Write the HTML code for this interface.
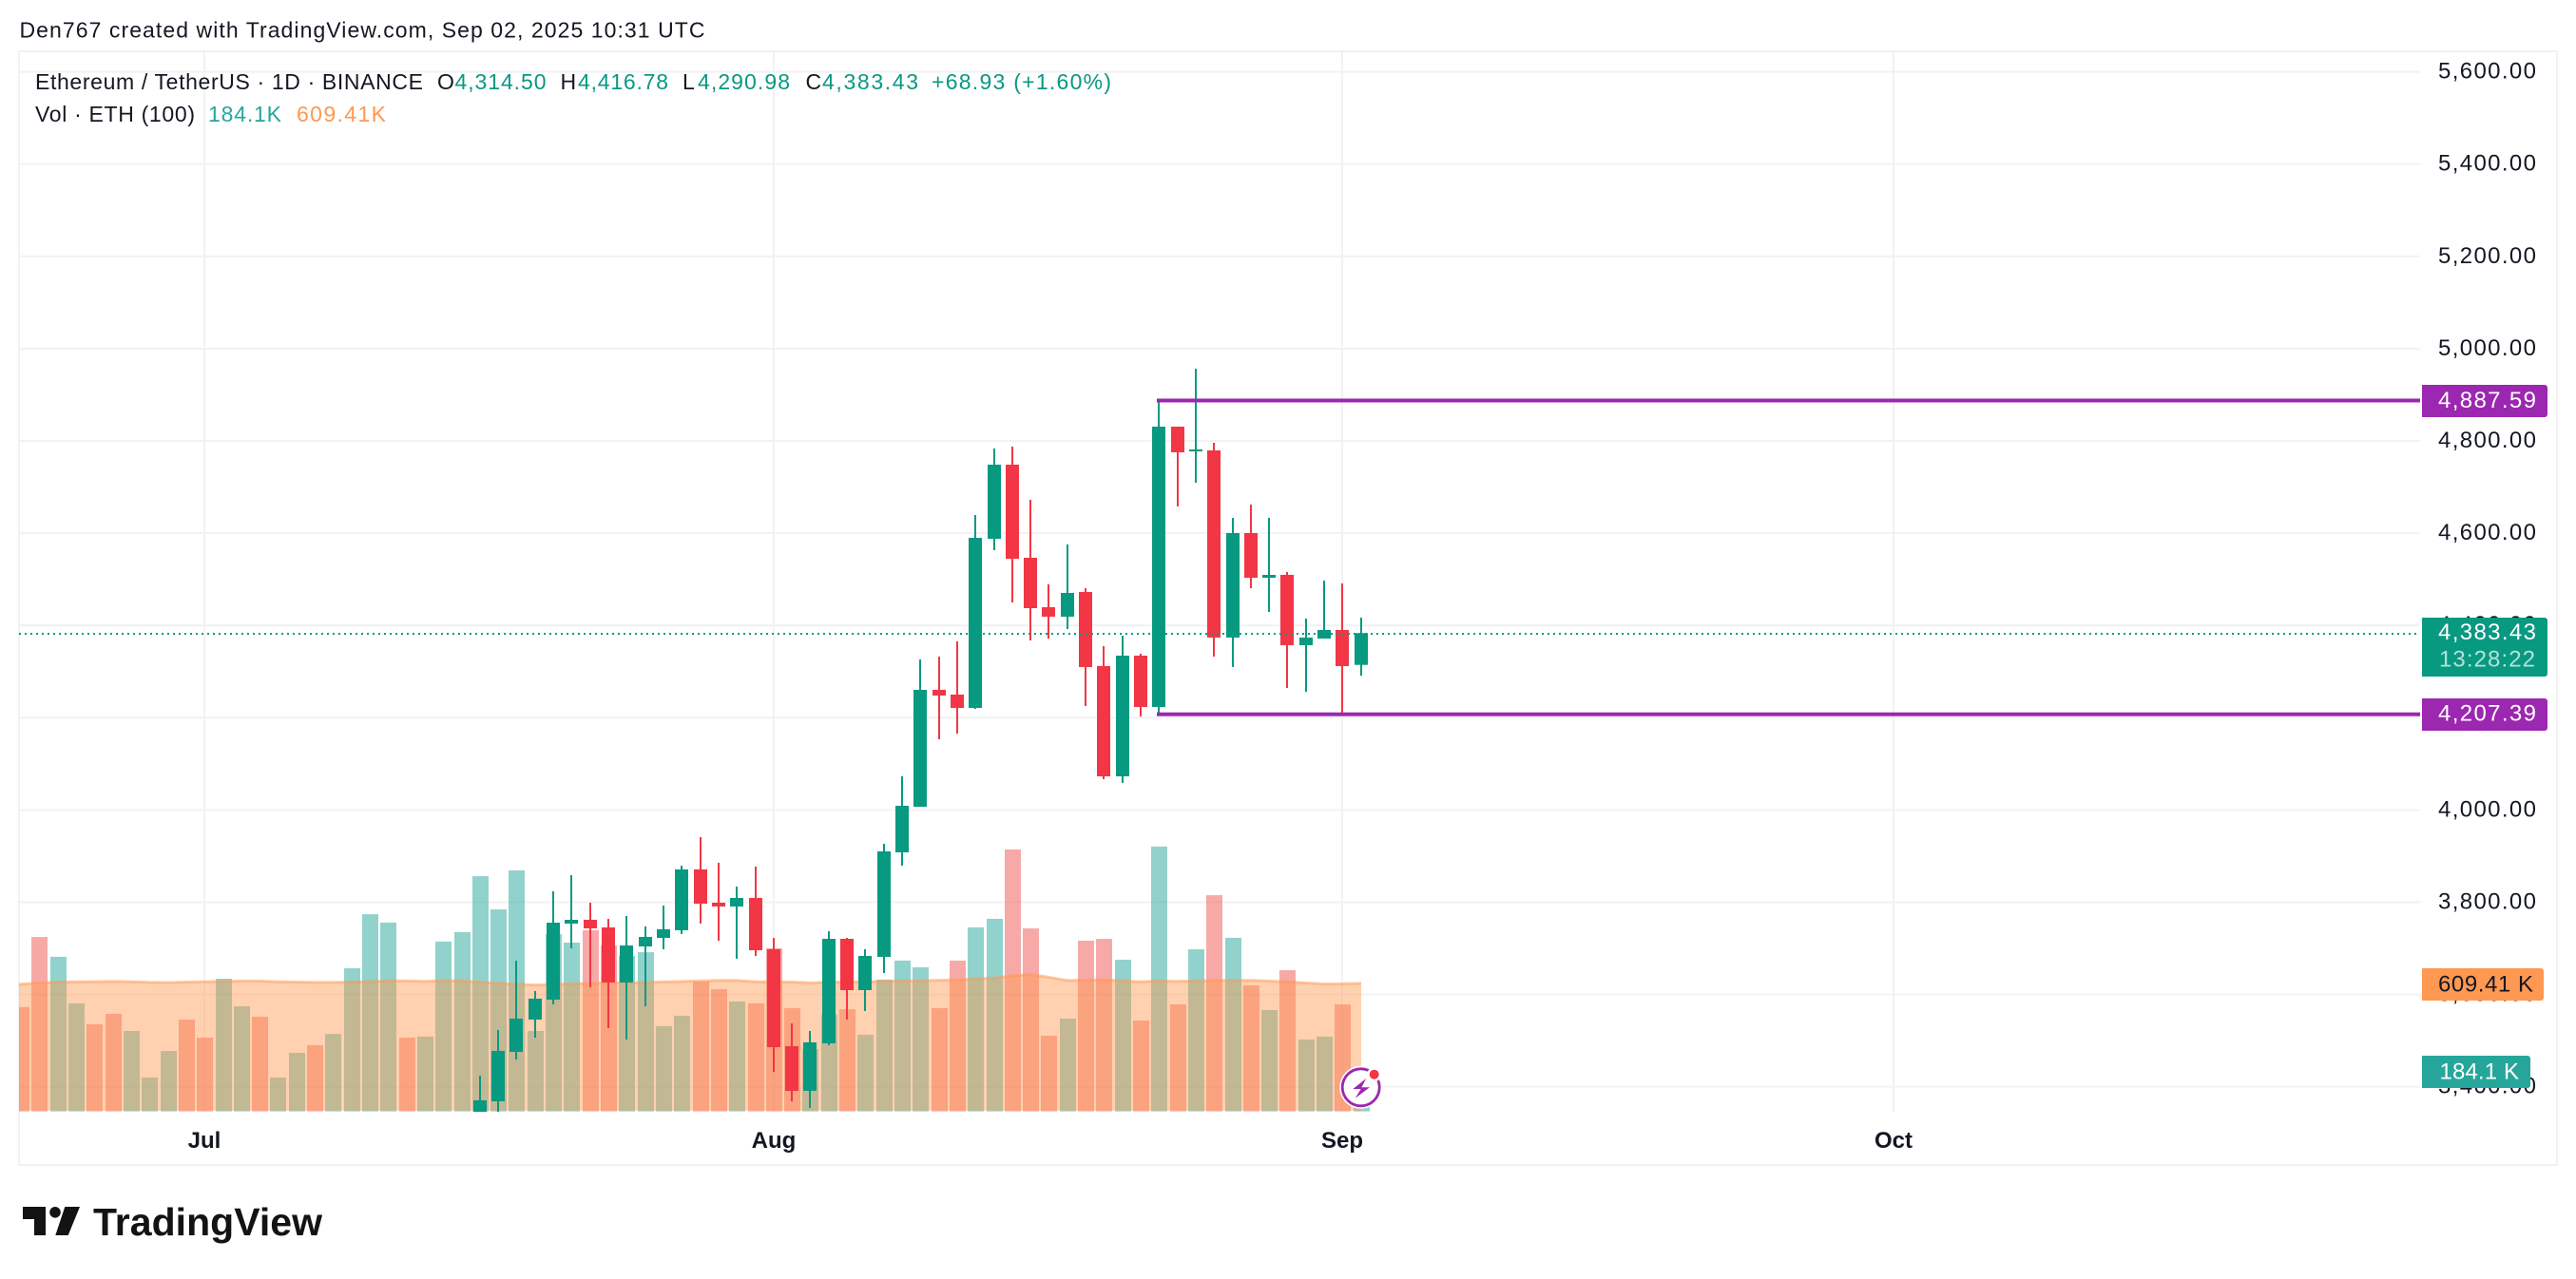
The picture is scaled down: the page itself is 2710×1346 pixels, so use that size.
<!DOCTYPE html>
<html lang="en">
<head>
<meta charset="utf-8">
<title>Ethereum / TetherUS 1D chart</title>
<style>
html,body{margin:0;padding:0;background:#fff;width:2710px;height:1346px;overflow:hidden}
svg{display:block;font-family:"Liberation Sans",sans-serif}
</style>
</head>
<body>
<svg id="chart" width="2710" height="1346" viewBox="0 0 2710 1346" xmlns="http://www.w3.org/2000/svg">
  <defs>
    <clipPath id="pane-clip"><rect x="20" y="54" width="2526" height="1116"/></clipPath>
  </defs>
  <rect x="0" y="0" width="2710" height="1346" fill="#ffffff"/>
  <text x="20.5" y="39.5" font-size="23" fill="#131722" textLength="721">Den767 created with TradingView.com, Sep 02, 2025 10:31 UTC</text>
  <rect x="20" y="54" width="2670" height="1172" fill="none" stroke="#f2f2f3" stroke-width="2"/>
  <g id="grid"></g>
  <g id="pane" clip-path="url(#pane-clip)">
    <g id="volumes"></g>
    <g id="vol-ma"></g>
    <g id="candles"></g>
    <g id="overlays"></g>
  </g>

  <g font-size="23">
    <text x="37" y="94" fill="#131722" textLength="408">Ethereum / TetherUS · 1D · BINANCE</text>
    <text x="460" y="94" fill="#131722">O</text>
    <text x="478.5" y="94" fill="#089981" textLength="96">4,314.50</text>
    <text x="589.5" y="94" fill="#131722">H</text>
    <text x="608" y="94" fill="#089981" textLength="95">4,416.78</text>
    <text x="718" y="94" fill="#131722">L</text>
    <text x="734" y="94" fill="#089981" textLength="97">4,290.98</text>
    <text x="847.5" y="94" fill="#131722">C</text>
    <text x="865" y="94" fill="#089981" textLength="101">4,383.43</text>
    <text x="980" y="94" fill="#089981" textLength="189">+68.93 (+1.60%)</text>
  </g>
  <g font-size="23">
    <text x="37" y="128" fill="#131722" textLength="168">Vol · ETH (100)</text>
    <text x="219" y="128" fill="#26a69a" textLength="77">184.1K</text>
    <text x="312" y="128" fill="#ff9850" textLength="94">609.41K</text>
  </g>

  <g id="price-axis"></g>
  <g id="time-axis"></g>

  <g font-size="24">
    <path d="M2548 405h129a3 3 0 0 1 3 3v28a3 3 0 0 1-3 3h-129z" fill="#9c27b0"/>
    <text x="2565" y="429" fill="#ffffff" textLength="103">4,887.59</text>
    <path d="M2548 650h129a3 3 0 0 1 3 3v56a3 3 0 0 1-3 3h-129z" fill="#089981"/>
    <text x="2565" y="673" fill="#ffffff" textLength="103">4,383.43</text>
    <text x="2566" y="701.5" fill="#ffffff" fill-opacity="0.7" textLength="101">13:28:22</text>
    <path d="M2548 735h129a3 3 0 0 1 3 3v28a3 3 0 0 1-3 3h-129z" fill="#9c27b0"/>
    <text x="2565" y="758.5" fill="#ffffff" textLength="103">4,207.39</text>
    <path d="M2548 1019h125a3 3 0 0 1 3 3v28a3 3 0 0 1-3 3h-125z" fill="#ff9850"/>
    <text x="2565" y="1043.5" fill="#131722" textLength="100">609.41 K</text>
    <path d="M2548 1111h111a3 3 0 0 1 3 3v28a3 3 0 0 1-3 3h-111z" fill="#26a69a"/>
    <text x="2566.5" y="1135.5" fill="#ffffff" textLength="83.5">184.1 K</text>
  </g>

  <g>
    <circle cx="1431.7" cy="1144.3" r="22.5" fill="#ffffff"/>
    <circle cx="1431.7" cy="1144.3" r="19.5" fill="none" stroke="#9c27b0" stroke-width="2.8"/>
    <polygon points="1437.3,1135 1423.3,1146 1431.7,1146 1425.7,1155.7 1441,1144.3 1432.3,1144.3" fill="#9c27b0"/>
    <circle cx="1445.7" cy="1130.7" r="7.5" fill="#ffffff"/>
    <circle cx="1445.7" cy="1130.7" r="5" fill="#f23645"/>
  </g>

  <g fill="#131313">
    <polygon points="24,1270 48,1270 48,1300 36,1300 36,1283 24,1283"/>
    <circle cx="58" cy="1275.8" r="5.8"/>
    <polygon points="68.3,1270 84,1270 71.7,1300 58.3,1300"/>
    <text x="98" y="1300" font-size="41" font-weight="700" textLength="241">TradingView</text>
  </g>
</svg>
<script>
// ---- tick data ----
const priceTicks = [5600, 5400, 5200, 5000, 4800, 4600, 4400, 4200, 4000, 3800, 3600, 3400];
const monthLabels = ['Jul', 'Aug', 'Sep', 'Oct'];
const monthDays = [0, 31, 62, 92];
const keyLevels = [4887.59, 4207.39];
const keyLevelStartDay = 52;
const lastPrice = 4383.43;

// ---- volume data (K), first entry is day -11 relative to Jul 1 ----
const volumeFirstDay = -11;
const volumes = [420,495,831,736,513,413,463,381,158,285,435,349,631,499,449,158,276,313,367,681,940,900,349,354,809,854,1122,963,1150,381,845,804,863,790,740,758,404,454,617,581,522,513,777,490,294,458,485,363,627,718,686,490,718,877,918,1250,872,358,440,813,822,722,431,1264,508,772,1031,827,599,481,672,340,354,508,184.1];
const volumeDirections = ['d','d','d','u','u','d','d','u','u','u','d','d','u','u','d','u','u','d','u','u','u','u','d','u','u','u','u','u','u','u','u','u','d','d','u','u','u','u','d','d','u','d','d','d','u','u','d','u','u','u','u','d','d','u','u','d','d','d','u','d','d','u','d','u','d','u','d','u','d','u','d','u','u','d','u'];
const volumeMA = [604,605,611,615,616,617,619,617,614,613,615,617,618,620,620,617,615,614,614,615,617,621,621,619,623,621,615,610,605,601,604,607,609,611,612,613,616,618,621,623,623,617,616,615,612,614,616,617,619,620,622,624,625,631,634,645,651,639,623,624,625,621,616,621,619,621,623,623,623,620,616,611,606,607,609.41];

// ---- candle data, first entry is day 15 relative to Jul 1 ----
const candleFirstDay = 15;
const opens = [3304.7,3368.5,3475.6,3545.7,3588.9,3753.7,3761.9,3745.4,3626,3704.2,3722.8,3739.3,3871.1,3799,3790.8,3809.3,3698.1,3488,3391.2,3494.1,3720.7,3609.5,3681.6,3908.1,4007,4260.4,4250.1,4221.2,4587.8,4748.5,4546.7,4439.5,4419,4472.5,4311.9,4072.9,4334.5,4223.3,4830.9,4777.3,4779.4,4373.7,4600.2,4503.4,4509.6,4357.2,4371.6,4390.1,4314.5];
const highs = [3424.1,3523,3673.3,3607.4,3823.7,3858.7,3799,3764,3770.1,3747.5,3792.8,3879.3,3941.1,3885.5,3834,3877.3,3722.8,3537.4,3520.9,3737.2,3722.8,3698.1,3926.7,4072.9,4326.3,4332.4,4365.4,4639.3,4783.5,4787.6,4672.3,4489,4575.5,4480.7,4355.1,4377.8,4338.7,4887.59,4830.9,4956.5,4795.9,4633.2,4662,4633.2,4515.7,4414.8,4497.2,4491,4416.78];
const lows = [3284,3340,3459.1,3506.5,3578.7,3700.1,3615.7,3527.1,3502.4,3574.5,3698.1,3731,3753.7,3716.6,3677.5,3683.6,3432.4,3368.5,3354.1,3490,3545.7,3564.2,3646.6,3879.3,4007,4153.3,4165.6,4219.2,4563.1,4449.8,4367.5,4371.6,4392.2,4225.3,4066.7,4058.5,4202.7,4206.8,4657.9,4709.4,4332.4,4309.8,4480.7,4429.3,4264.5,4256.2,4371.6,4210.9,4290.98];
const closes = [3370.6,3477.7,3547.7,3591,3755.7,3761.9,3743.4,3626,3706.3,3724.8,3741.3,3871.1,3796.9,3790.8,3809.3,3696,3485.9,3391.2,3496.2,3720.7,3609.5,3683.6,3910.2,4009.1,4260.4,4248,4221.2,4589.9,4748.5,4544.6,4437.5,4419,4470.4,4309.8,4072.9,4334.5,4223.3,4830.9,4775.3,4781.5,4373.7,4600.2,4503.4,4509.6,4357.2,4373.7,4390.1,4311.9,4383.43];

// ---- axis functions ----
const SVG_NS = 'http://www.w3.org/2000/svg';
function yPrice(p) { return 172.7 + (5400 - p) * 0.4855; }
function xDay(d) { return Math.round(215.2 + 19.31 * d); }
function yVolume(k) { return 1168.7 - k / 4.55; }
function fmtPrice(p) { return p.toLocaleString('en-US', { minimumFractionDigits: 2, maximumFractionDigits: 2 }); }
function make(tag, parent, attrs) {
  const el = document.createElementNS(SVG_NS, tag);
  for (const k in attrs) el.setAttribute(k, attrs[k]);
  parent.appendChild(el);
  return el;
}

const gridG = document.getElementById('grid');
const priceAxisG = document.getElementById('price-axis');
const timeAxisG = document.getElementById('time-axis');
const volumesG = document.getElementById('volumes');
const maG = document.getElementById('vol-ma');
const candlesG = document.getElementById('candles');
const overlaysG = document.getElementById('overlays');

// grid + price ticks
priceTicks.forEach(function (p) {
  const y = yPrice(p);
  const line = make('rect', gridG, { x: 20, y: y - 1, width: 2526, height: 2, fill: '#f2f2f3' });
  
  
  const t = make('text', priceAxisG, { x: 2565, y: y + 7, 'font-size': 24, fill: '#131722', textLength: 103 });
  
  
  t.textContent = fmtPrice(p);
});

// month ticks
monthLabels.forEach(function (m, i) {
  const x = xDay(monthDays[i]);
  const line = make('rect', gridG, { x: x - 1, y: 54, width: 2, height: 1116, fill: '#f2f2f3' });
  
  
  const t = make('text', timeAxisG, { x: x, y: 1208, 'font-size': 24, 'font-weight': 700, fill: '#131722', 'text-anchor': 'middle' });
  
  
  t.textContent = m;
});

// volume bars
volumes.forEach(function (v, i) {
  const x = xDay(volumeFirstDay + i);
  const top = yVolume(v);
  const up = volumeDirections[i] === 'u';
  const bar = make('rect', volumesG, { x: x - 8, y: top, width: 17, height: 1169.6 - top, fill: up ? '#26a69a' : '#ef5350', 'fill-opacity': 0.5 });
  
  
});

// volume moving average
let topPts = [];
volumeMA.forEach(function (v, i) {
  topPts.push(xDay(volumeFirstDay + i) + ',' + yVolume(v).toFixed(1));
});
const lastX = xDay(volumeFirstDay + volumeMA.length - 1);
const firstX = xDay(volumeFirstDay);
const area = make('polygon', maG, { points: firstX + ',1168.7 ' + topPts.join(' ') + ' ' + lastX + ',1168.7', fill: '#ff9850', 'fill-opacity': 0.45 });


const maLine = make('polyline', maG, { points: topPts.join(' '), fill: 'none', stroke: '#ff9850', 'stroke-opacity': 0.5, 'stroke-width': 3 });



// candles
opens.forEach(function (o, i) {
  const x = xDay(candleFirstDay + i);
  const c = closes[i];
  const color = c >= o ? '#089981' : '#f23645';
  const yH = yPrice(highs[i]);
  const yL = yPrice(lows[i]);
  const bt = yPrice(Math.max(o, c));
  const bb = yPrice(Math.min(o, c));
  const wick = make('rect', candlesG, { x: x - 1, y: yH, width: 2, height: yL - yH, fill: color });
  
  
  const body = make('rect', candlesG, { x: x - 7, y: bt, width: 14, height: Math.max(bb - bt, 2), fill: color });
  
  
});

// current price dotted line (snapped to the pixel grid so dots stay crisp)
const yLast = Math.round(yPrice(lastPrice)) + 1;
const priceLine = make('line', overlaysG, { x1: 20, x2: 2542, y1: yLast, y2: yLast, stroke: '#089981', 'stroke-width': 2, 'stroke-dasharray': '2 4' });



// key horizontal levels
keyLevels.forEach(function (p) {
  const y = yPrice(p);
  const lvl = make('rect', overlaysG, { x: xDay(keyLevelStartDay) - 2, y: y - 2, width: 2546 - xDay(keyLevelStartDay) + 2, height: 4, fill: '#9c27b0' });
  
  
});
</script>
</body>
</html>
